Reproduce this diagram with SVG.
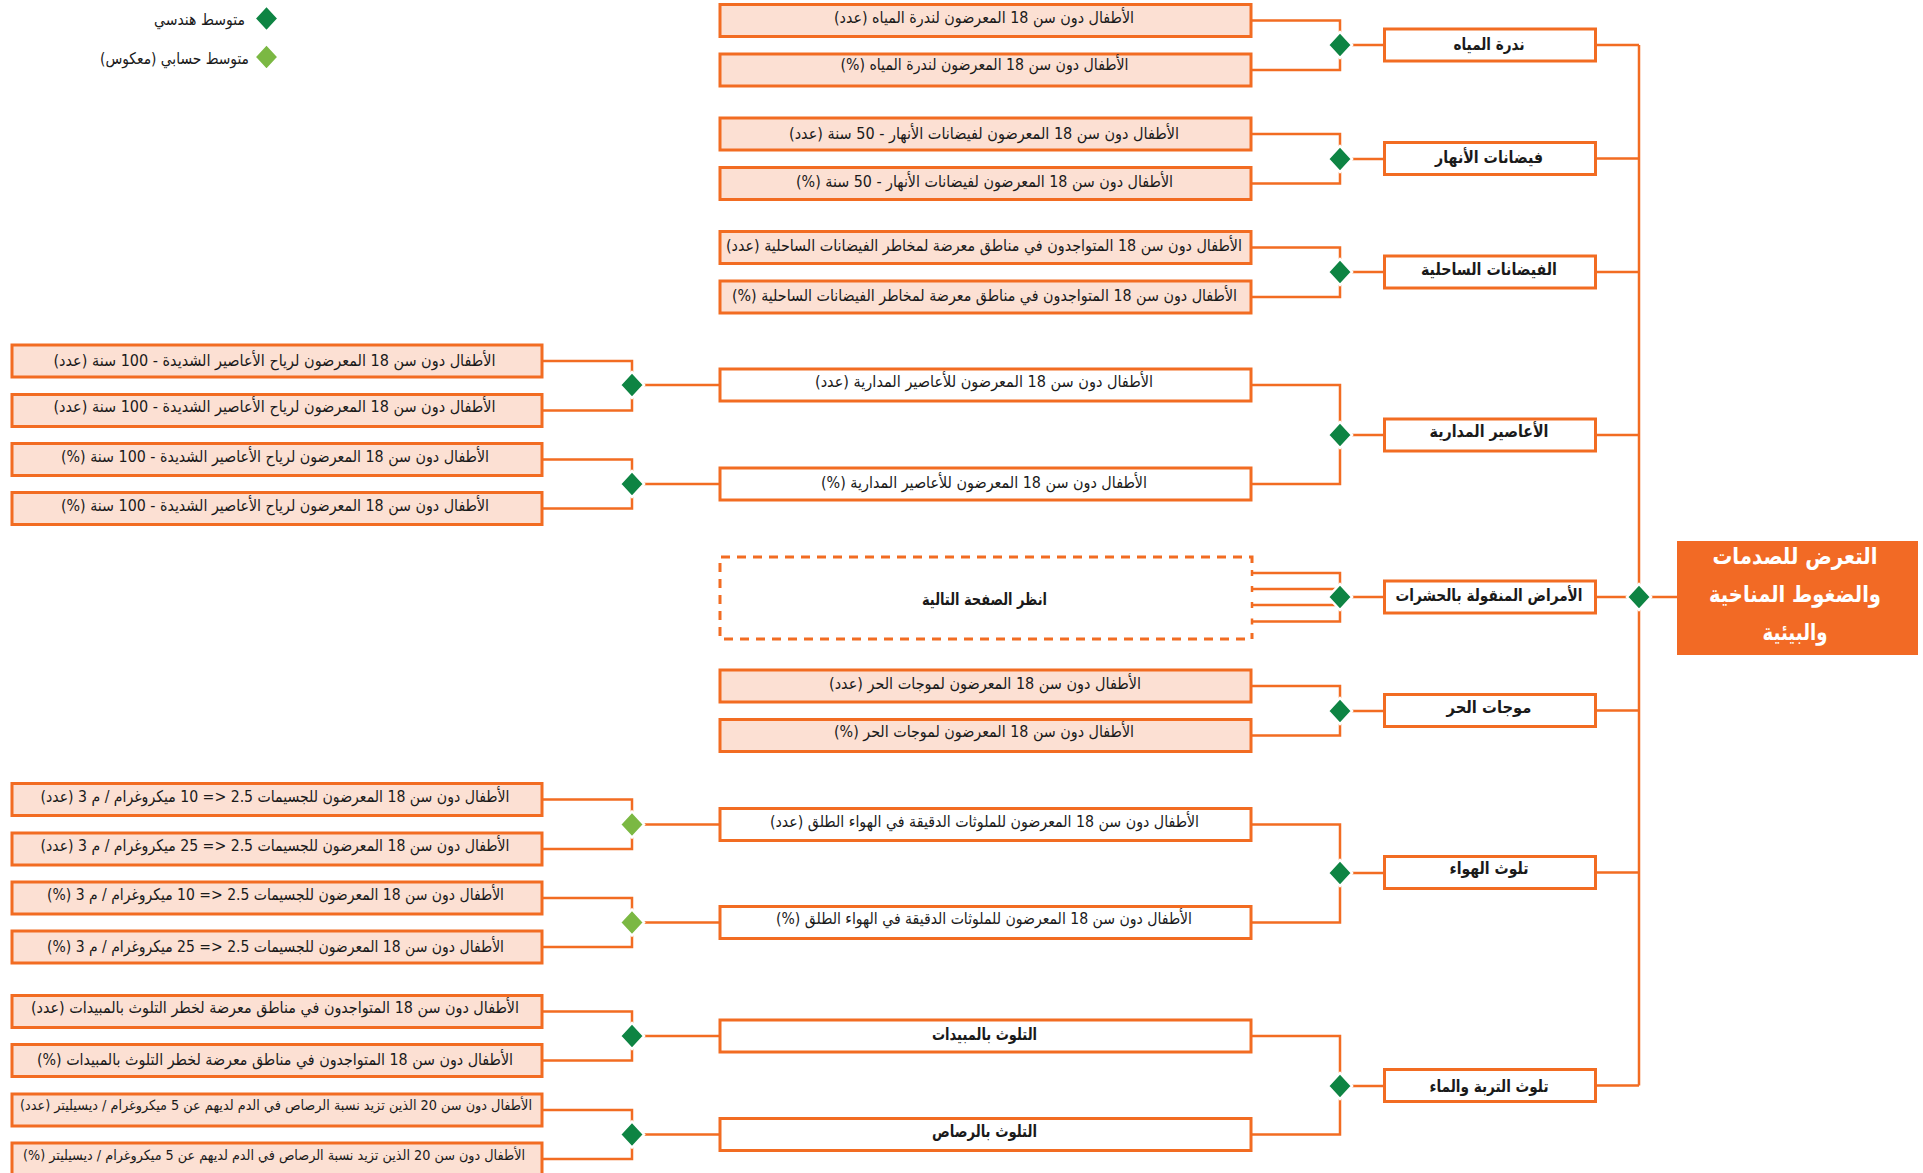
<svg xmlns="http://www.w3.org/2000/svg" xmlns:xlink="http://www.w3.org/1999/xlink" width="1923" height="1173" viewBox="0 0 1923 1173">
  <defs>
    <style>
      .box { fill: #ffffff; stroke: #F26C22; stroke-width: 3; }
      .peach { fill: #FCE0D3; }
      .dash { fill: none; stroke: #F26C22; stroke-width: 3; stroke-dasharray: 9 7; }
      .wire { fill: none; stroke: #F26C22; stroke-width: 2.5; }
      .dg { fill: #0E8443; stroke: #ffffff; stroke-width: 2.5; }
      .lg { fill: #7BB843; stroke: #ffffff; stroke-width: 2.5; }
      .t { font-family: "DejaVu Sans", sans-serif; font-size: 16px; fill: #1a1a1a; text-anchor: middle; dominant-baseline: central; direction: rtl; }
      .s { font-size: 14px; }
      .b { font-weight: bold; font-size: 16.5px; }
      .title { font-family: "DejaVu Sans", sans-serif; font-size: 23px; font-weight: bold; fill: #ffffff; text-anchor: middle; dominant-baseline: central; direction: rtl; }
    </style>
    <path id="dia" d="M0,-13 L12,0 L0,13 L-12,0 Z"/>
  </defs>

  <!-- legend -->
  <g id="legend">
    <use xlink:href="#dia" x="266.5" y="18.5" class="dg"/>
    <text class="t" x="199.5" y="19" textLength="91" lengthAdjust="spacingAndGlyphs">متوسط هندسي</text>
    <use xlink:href="#dia" x="266.5" y="57" class="lg"/>
    <text class="t" x="174.5" y="58" textLength="149" lengthAdjust="spacingAndGlyphs">متوسط حسابي (معكوس)</text>
  </g>

  <!-- connectors -->
  <g id="connectors">
    <!-- main trunk -->
    <path class="wire" d="M1639,45 V1085.5"/>
    <path class="wire" d="M1597,45 H1639 M1597,158.5 H1639 M1597,272 H1639 M1597,435 H1639 M1597,597 H1677 M1597,710.5 H1639 M1597,872.5 H1639 M1597,1085.5 H1639"/>
    <!-- water scarcity -->
    <path class="wire" d="M1252,20.5 H1340 V45 M1252,70 H1340 V45 M1340,45 H1383"/>
    <!-- river floods -->
    <path class="wire" d="M1252,134 H1340 V159 M1252,183.5 H1340 V159 M1340,159 H1383"/>
    <!-- coastal floods -->
    <path class="wire" d="M1252,247.5 H1340 V272 M1252,297 H1340 V272 M1340,272 H1383"/>
    <!-- cyclones -->
    <path class="wire" d="M1252,385 H1340 V435 M1252,484 H1340 V435 M1340,435 H1383"/>
    <path class="wire" d="M543,361 H632 V385 M543,410.5 H632 V385 M632,385 H720"/>
    <path class="wire" d="M543,459.5 H632 V484 M543,508.5 H632 V484 M632,484 H720"/>
    <!-- vector-borne diseases -->
    <path class="wire" d="M1252,573 H1340 V597 M1252,589 H1340 M1252,605 H1340 M1252,621.5 H1340 V597 M1340,597 H1383"/>
    <path class="wire" d="M1252,570 V576 M1252,586 V592 M1252,602 V608 M1252,618.5 V624.5"/>
    <!-- heatwaves -->
    <path class="wire" d="M1252,686 H1340 V711 M1252,735.5 H1340 V711 M1340,711 H1383"/>
    <!-- air pollution -->
    <path class="wire" d="M1252,824.5 H1340 V873 M1252,922.5 H1340 V873 M1340,873 H1383"/>
    <path class="wire" d="M543,799.5 H632 V824.5 M543,849 H632 V824.5 M632,824.5 H720"/>
    <path class="wire" d="M543,898 H632 V922.5 M543,947 H632 V922.5 M632,922.5 H720"/>
    <!-- soil and water pollution -->
    <path class="wire" d="M1252,1036 H1340 V1086 M1252,1134.5 H1340 V1086 M1340,1086 H1383"/>
    <path class="wire" d="M543,1011.5 H632 V1036 M543,1060.5 H632 V1036 M632,1036 H720"/>
    <path class="wire" d="M543,1110 H632 V1134.5 M543,1159 H632 V1134.5 M632,1134.5 H720"/>
  </g>

  <!-- aggregation diamonds -->
  <g id="diamonds">
    <use xlink:href="#dia" x="1639" y="597" class="dg"/>
    <use xlink:href="#dia" x="1340" y="45" class="dg"/>
    <use xlink:href="#dia" x="1340" y="159" class="dg"/>
    <use xlink:href="#dia" x="1340" y="272" class="dg"/>
    <use xlink:href="#dia" x="1340" y="435" class="dg"/>
    <use xlink:href="#dia" x="1340" y="597" class="dg"/>
    <use xlink:href="#dia" x="1340" y="711" class="dg"/>
    <use xlink:href="#dia" x="1340" y="873" class="dg"/>
    <use xlink:href="#dia" x="1340" y="1086" class="dg"/>
    <use xlink:href="#dia" x="632" y="385" class="dg"/>
    <use xlink:href="#dia" x="632" y="484" class="dg"/>
    <use xlink:href="#dia" x="632" y="824.5" class="lg"/>
    <use xlink:href="#dia" x="632" y="922.5" class="lg"/>
    <use xlink:href="#dia" x="632" y="1036" class="dg"/>
    <use xlink:href="#dia" x="632" y="1134.5" class="dg"/>
  </g>

  <!-- root -->
  <g id="root">
    <rect x="1677" y="541" width="241" height="114" fill="#F26A25"/>
    <text class="title" x="1795" y="556" textLength="165" lengthAdjust="spacingAndGlyphs">التعرض للصدمات</text>
    <text class="title" x="1795" y="594" textLength="172" lengthAdjust="spacingAndGlyphs">والضغوط المناخية</text>
    <text class="title" x="1795" y="632" textLength="65" lengthAdjust="spacingAndGlyphs">والبيئية</text>
  </g>

  <!-- hazard categories -->
  <g id="cat-water">
    <rect class="box" x="1384.5" y="29" width="211" height="32"/>
    <text class="t b" x="1489" y="44" textLength="71" lengthAdjust="spacingAndGlyphs">ندرة المياه</text>
  </g>
  <g id="cat-river">
    <rect class="box" x="1384.5" y="142.5" width="211" height="32"/>
    <text class="t b" x="1489" y="157" textLength="108" lengthAdjust="spacingAndGlyphs">فيضانات الأنهار</text>
  </g>
  <g id="cat-coastal">
    <rect class="box" x="1384.5" y="256" width="211" height="32"/>
    <text class="t b" x="1489" y="269.5" textLength="136" lengthAdjust="spacingAndGlyphs">الفيضانات الساحلية</text>
  </g>
  <g id="cat-cyclone">
    <rect class="box" x="1384.5" y="419" width="211" height="32"/>
    <text class="t b" x="1489" y="431" textLength="119" lengthAdjust="spacingAndGlyphs">الأعاصير المدارية</text>
  </g>
  <g id="cat-vector">
    <rect class="box" x="1384.5" y="581" width="211" height="32"/>
    <text class="t b" x="1489" y="595" textLength="187" lengthAdjust="spacingAndGlyphs">الأمراض المنقولة بالحشرات</text>
  </g>
  <g id="cat-heat">
    <rect class="box" x="1384.5" y="694.5" width="211" height="32"/>
    <text class="t b" x="1489" y="707" textLength="85" lengthAdjust="spacingAndGlyphs">موجات الحر</text>
  </g>
  <g id="cat-air">
    <rect class="box" x="1384.5" y="856.5" width="211" height="32"/>
    <text class="t b" x="1489" y="868" textLength="79" lengthAdjust="spacingAndGlyphs">تلوث الهواء</text>
  </g>
  <g id="cat-soil">
    <rect class="box" x="1384.5" y="1069.5" width="211" height="32"/>
    <text class="t b" x="1489" y="1086" textLength="119" lengthAdjust="spacingAndGlyphs">تلوث التربة والماء</text>
  </g>

  <!-- indicator boxes, middle column -->
  <g id="ind-water-n">
    <rect class="box peach" x="720" y="4.5" width="531" height="32"/>
    <text class="t" x="984" y="17.5" textLength="300" lengthAdjust="spacingAndGlyphs">الأطفال دون سن 18 المعرضون لندرة المياه (عدد)</text>
  </g>
  <g id="ind-water-p">
    <rect class="box peach" x="720" y="54" width="531" height="32"/>
    <text class="t" x="984.5" y="64" textLength="288" lengthAdjust="spacingAndGlyphs">الأطفال دون سن 18 المعرضون لندرة المياه (%)</text>
  </g>
  <g id="ind-river-n">
    <rect class="box peach" x="720" y="118" width="531" height="32"/>
    <text class="t" x="984" y="133" textLength="390" lengthAdjust="spacingAndGlyphs">الأطفال دون سن 18 المعرضون لفيضانات الأنهار - 50 سنة (عدد)</text>
  </g>
  <g id="ind-river-p">
    <rect class="box peach" x="720" y="167.5" width="531" height="32"/>
    <text class="t" x="984.5" y="181.5" textLength="377" lengthAdjust="spacingAndGlyphs">الأطفال دون سن 18 المعرضون لفيضانات الأنهار - 50 سنة (%)</text>
  </g>
  <g id="ind-coastal-n">
    <rect class="box peach" x="720" y="231.5" width="531" height="32"/>
    <text class="t" x="984" y="245" textLength="516" lengthAdjust="spacingAndGlyphs">الأطفال دون سن 18 المتواجدون في مناطق معرضة لمخاطر الفيضانات الساحلية (عدد)</text>
  </g>
  <g id="ind-coastal-p">
    <rect class="box peach" x="720" y="281" width="531" height="32"/>
    <text class="t" x="984.5" y="295" textLength="505" lengthAdjust="spacingAndGlyphs">الأطفال دون سن 18 المتواجدون في مناطق معرضة لمخاطر الفيضانات الساحلية (%)</text>
  </g>
  <g id="ind-cyclone-n">
    <rect class="box" x="720" y="369" width="531" height="32"/>
    <text class="t" x="984" y="381.5" textLength="338" lengthAdjust="spacingAndGlyphs">الأطفال دون سن 18 المعرضون للأعاصير المدارية (عدد)</text>
  </g>
  <g id="ind-cyclone-p">
    <rect class="box" x="720" y="468" width="531" height="32"/>
    <text class="t" x="984" y="482.5" textLength="326" lengthAdjust="spacingAndGlyphs">الأطفال دون سن 18 المعرضون للأعاصير المدارية (%)</text>
  </g>
  <g id="ind-vector">
    <path class="dash" d="M1252,563 V557 H720 V639 H1252 V633"/>
    <text class="t b" x="984.5" y="599" textLength="125" lengthAdjust="spacingAndGlyphs">انظر الصفحة التالية</text>
  </g>
  <g id="ind-heat-n">
    <rect class="box peach" x="720" y="670" width="531" height="32"/>
    <text class="t" x="985" y="683" textLength="312" lengthAdjust="spacingAndGlyphs">الأطفال دون سن 18 المعرضون لموجات الحر (عدد)</text>
  </g>
  <g id="ind-heat-p">
    <rect class="box peach" x="720" y="719.5" width="531" height="32"/>
    <text class="t" x="984" y="731.5" textLength="300" lengthAdjust="spacingAndGlyphs">الأطفال دون سن 18 المعرضون لموجات الحر (%)</text>
  </g>
  <g id="ind-air-n">
    <rect class="box" x="720" y="808.5" width="531" height="32"/>
    <text class="t" x="984.5" y="821" textLength="429" lengthAdjust="spacingAndGlyphs">الأطفال دون سن 18 المعرضون للملوثات الدقيقة في الهواء الطلق (عدد)</text>
  </g>
  <g id="ind-air-p">
    <rect class="box" x="720" y="906.5" width="531" height="32"/>
    <text class="t" x="984" y="918.5" textLength="416" lengthAdjust="spacingAndGlyphs">الأطفال دون سن 18 المعرضون للملوثات الدقيقة في الهواء الطلق (%)</text>
  </g>
  <g id="ind-pesticide">
    <rect class="box" x="720" y="1020" width="531" height="32"/>
    <text class="t b" x="984.5" y="1034" textLength="105" lengthAdjust="spacingAndGlyphs">التلوث بالمبيدات</text>
  </g>
  <g id="ind-lead">
    <rect class="box" x="720" y="1118.5" width="531" height="32"/>
    <text class="t b" x="984.5" y="1131" textLength="105" lengthAdjust="spacingAndGlyphs">التلوث بالرصاص</text>
  </g>

  <!-- sub-indicator boxes, left column -->
  <g id="sub-wind-n1">
    <rect class="box peach" x="12" y="345" width="530" height="32"/>
    <text class="t" x="274.5" y="360.5" textLength="442" lengthAdjust="spacingAndGlyphs">الأطفال دون سن 18 المعرضون لرياح الأعاصير الشديدة - 100 سنة (عدد)</text>
  </g>
  <g id="sub-wind-n2">
    <rect class="box peach" x="12" y="394.5" width="530" height="32"/>
    <text class="t" x="274.5" y="406" textLength="442" lengthAdjust="spacingAndGlyphs">الأطفال دون سن 18 المعرضون لرياح الأعاصير الشديدة - 100 سنة (عدد)</text>
  </g>
  <g id="sub-wind-p1">
    <rect class="box peach" x="12" y="443.5" width="530" height="32"/>
    <text class="t" x="275" y="456.5" textLength="428" lengthAdjust="spacingAndGlyphs">الأطفال دون سن 18 المعرضون لرياح الأعاصير الشديدة - 100 سنة (%)</text>
  </g>
  <g id="sub-wind-p2">
    <rect class="box peach" x="12" y="492.5" width="530" height="32"/>
    <text class="t" x="275" y="505" textLength="428" lengthAdjust="spacingAndGlyphs">الأطفال دون سن 18 المعرضون لرياح الأعاصير الشديدة - 100 سنة (%)</text>
  </g>
  <g id="sub-pm10-n">
    <rect class="box peach" x="12" y="783.5" width="530" height="32"/>
    <text class="t" x="275" y="796" textLength="469" lengthAdjust="spacingAndGlyphs">الأطفال دون سن 18 المعرضون للجسيمات 2.5 &lt;= 10 ميكروغرام / م 3 (عدد)</text>
  </g>
  <g id="sub-pm25-n">
    <rect class="box peach" x="12" y="833" width="530" height="32"/>
    <text class="t" x="275" y="845" textLength="469" lengthAdjust="spacingAndGlyphs">الأطفال دون سن 18 المعرضون للجسيمات 2.5 &lt;= 25 ميكروغرام / م 3 (عدد)</text>
  </g>
  <g id="sub-pm10-p">
    <rect class="box peach" x="12" y="882" width="530" height="32"/>
    <text class="t" x="275.5" y="894" textLength="457" lengthAdjust="spacingAndGlyphs">الأطفال دون سن 18 المعرضون للجسيمات 2.5 &lt;= 10 ميكروغرام / م 3 (%)</text>
  </g>
  <g id="sub-pm25-p">
    <rect class="box peach" x="12" y="931" width="530" height="32"/>
    <text class="t" x="275.5" y="946.5" textLength="457" lengthAdjust="spacingAndGlyphs">الأطفال دون سن 18 المعرضون للجسيمات 2.5 &lt;= 25 ميكروغرام / م 3 (%)</text>
  </g>
  <g id="sub-pest-n">
    <rect class="box peach" x="12" y="995.5" width="530" height="32"/>
    <text class="t" x="275" y="1007" textLength="488" lengthAdjust="spacingAndGlyphs">الأطفال دون سن 18 المتواجدون في مناطق معرضة لخطر التلوث بالمبيدات (عدد)</text>
  </g>
  <g id="sub-pest-p">
    <rect class="box peach" x="12" y="1044.5" width="530" height="32"/>
    <text class="t" x="275" y="1059" textLength="476" lengthAdjust="spacingAndGlyphs">الأطفال دون سن 18 المتواجدون في مناطق معرضة لخطر التلوث بالمبيدات (%)</text>
  </g>
  <g id="sub-lead-n">
    <rect class="box peach" x="12" y="1094" width="530" height="32"/>
    <text class="t s" x="276" y="1105" textLength="512" lengthAdjust="spacingAndGlyphs">الأطفال دون سن 20 الذين تزيد نسبة الرصاص في الدم لديهم عن 5 ميكروغرام / ديسيليتر (عدد)</text>
  </g>
  <g id="sub-lead-p">
    <rect class="box peach" x="12" y="1143" width="530" height="32"/>
    <text class="t s" x="274" y="1155" textLength="502" lengthAdjust="spacingAndGlyphs">الأطفال دون سن 20 الذين تزيد نسبة الرصاص في الدم لديهم عن 5 ميكروغرام / ديسيليتر (%)</text>
  </g>
</svg>
